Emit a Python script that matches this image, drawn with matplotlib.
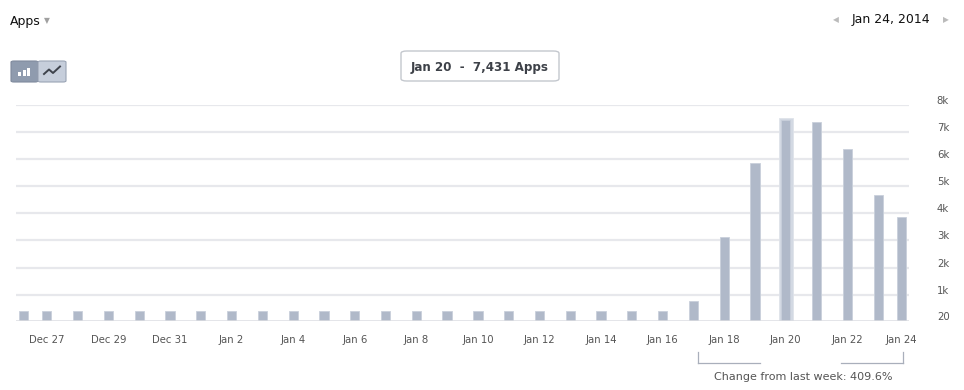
import matplotlib
matplotlib.use("Agg")
import matplotlib.pyplot as plt
from matplotlib.patches import FancyBboxPatch, Rectangle
from matplotlib.lines import Line2D
import matplotlib.transforms as mtransforms

# ---------------- data ----------------
dates = (["Dec 26", "Dec 27", "Dec 28", "Dec 29", "Dec 30", "Dec 31"]
         + ["Jan %d" % d for d in range(1, 25)])
values = [390, 390, 390, 390, 390, 390,
          390, 390, 390, 390, 390, 390, 390, 390, 390, 390,
          390, 390, 390, 390, 390, 390,
          770, 3110, 5840, 7431, 7360, 6360, 4690, 3850]
tick_labels = ["Dec 27", "Dec 29", "Dec 31", "Jan 2", "Jan 4", "Jan 6", "Jan 8",
               "Jan 10", "Jan 12", "Jan 14", "Jan 16", "Jan 18", "Jan 20",
               "Jan 22", "Jan 24"]
y_ticks = [20, 1000, 2000, 3000, 4000, 5000, 6000, 7000, 8000]
y_tick_labels = ["20", "1k", "2k", "3k", "4k", "5k", "6k", "7k", "8k"]
highlight = "Jan 20"
title = "Apps"
date_text = "Jan 24, 2014"
tooltip_text = "Jan 20  -  7,431 Apps"
change_text = "Change from last week: 409.6%"

# ---------------- figure ----------------
W, H = 964, 390
fig = plt.figure(figsize=(W / 100, H / 100), dpi=100)
fig.patch.set_facecolor("white")

def fx(px):
    return px / W

def fy(py):
    return 1 - py / H

ax = fig.add_axes([fx(16), fy(321.3), fx(909) - fx(16), fy(104.7) - fy(321.3)])
ax.set_facecolor("white")

n = len(dates)
bar_w = 0.30
inset = 0.24
xs = []
for i in range(n):
    x = float(i)
    if i == 0:
        x += inset
    elif i == n - 1:
        x -= inset
    xs.append(x)

bar_color = "#b0b9c9"
edge_color = "#c9d0db"

for y in y_ticks[1:]:
    ax.axhline(y, color="#e7e8ec", lw=1.6, zorder=0)
ax.axhline(y_ticks[0], color="#dcdde2", lw=1.8, zorder=3)

hi = dates.index(highlight)
ax.bar(xs[hi], values[hi] + 90, width=bar_w * 1.45, bottom=0,
       color="#d3d9e3", edgecolor="#dfe3ea", lw=0.6, zorder=1)
ax.bar(xs, values, width=bar_w, bottom=0, color=bar_color,
       edgecolor=edge_color, lw=0.6, zorder=2)

ax.set_xlim(0, n - 1)
ax.set_ylim(y_ticks[0], y_ticks[-1])

tick_pos = [xs[dates.index(t)] for t in tick_labels]
ax.set_xticks(tick_pos)
ax.set_xticklabels(tick_labels, fontsize=7.3, color="#555555")
ax.tick_params(axis="x", length=0, pad=10)

ax.yaxis.tick_right()
ax.set_yticks(y_ticks)
ax.set_yticklabels(y_tick_labels, fontsize=7.3, color="#555555", ha="left")
ax.tick_params(axis="y", length=0, pad=20)
offset = mtransforms.ScaledTranslation(0, 5 / 100, fig.dpi_scale_trans)
for lab in ax.get_yticklabels():
    lab.set_transform(lab.get_transform() + offset)

for s in ax.spines.values():
    s.set_visible(False)

# ---------------- bracket / change text ----------------
br_color = "#a9afbb"
trans = ax.get_xaxis_transform()
yb0 = (321.3 - 363) / (321.3 - 104.7)
yb1 = (321.3 - 352) / (321.3 - 104.7)
for (xa, xb, xv) in [(22.14, 24.16, 22.14), (26.79, 28.8, 28.8)]:
    ax.add_line(Line2D([xa, xb], [yb0, yb0], transform=trans, color=br_color,
                       lw=0.9, clip_on=False))
    ax.add_line(Line2D([xv, xv], [yb0, yb1], transform=trans, color=br_color,
                       lw=0.9, clip_on=False))
fig.text(fx(803), fy(377), change_text, fontsize=8, color="#555555",
         ha="center", va="center")

# ---------------- header ----------------
fig.text(fx(10), fy(21), title, fontsize=9, color="#111111", ha="left", va="center")
fig.text(fx(47), fy(21), "▼", fontsize=5.5, color="#a0a0a0", ha="center", va="center")
fig.text(fx(891), fy(20), date_text, fontsize=9, color="#111111", ha="center", va="center")
fig.text(fx(836), fy(20), "◀", fontsize=5.5, color="#bbbbbb", ha="center", va="center")
fig.text(fx(946), fy(20), "▶", fontsize=5.5, color="#bbbbbb", ha="center", va="center")

# tooltip
tip = FancyBboxPatch((fx(401), fy(81)), fx(559) - fx(401), fy(51) - fy(81),
                     boxstyle="round,pad=0,rounding_size=0.006",
                     transform=fig.transFigure, facecolor="white",
                     edgecolor="#c4c8ce", lw=1.0)
fig.patches.append(tip)
fig.text(fx(480), fy(67), tooltip_text, fontsize=8.6, fontweight="bold",
         color="#3d4148", ha="center", va="center")

# toggle buttons
b1 = FancyBboxPatch((fx(11), fy(82)), fx(38) - fx(11), fy(61) - fy(82),
                    boxstyle="round,pad=0,rounding_size=0.003",
                    transform=fig.transFigure, facecolor="#8f9bae",
                    edgecolor="#7f8a9d", lw=0.8)
b2 = FancyBboxPatch((fx(38), fy(82)), fx(66) - fx(38), fy(61) - fy(82),
                    boxstyle="round,pad=0,rounding_size=0.003",
                    transform=fig.transFigure, facecolor="#c6cedb",
                    edgecolor="#9aa4b5", lw=0.8)
fig.patches.extend([b1, b2])
for (x0, h) in [(18, 4), (22.5, 6), (27, 8)]:
    fig.patches.append(Rectangle((fx(x0), fy(76)), fx(3) - fx(0), fy(76 - h) - fy(76),
                                 transform=fig.transFigure, facecolor="white",
                                 edgecolor="none"))
fig.lines.append(Line2D([fx(44), fx(49), fx(53), fx(60)],
                        [fy(74), fy(69.5), fy(73), fy(66.5)],
                        transform=fig.transFigure, color="#3e434c", lw=1.4))

fig.savefig("out.png", dpi=100)
